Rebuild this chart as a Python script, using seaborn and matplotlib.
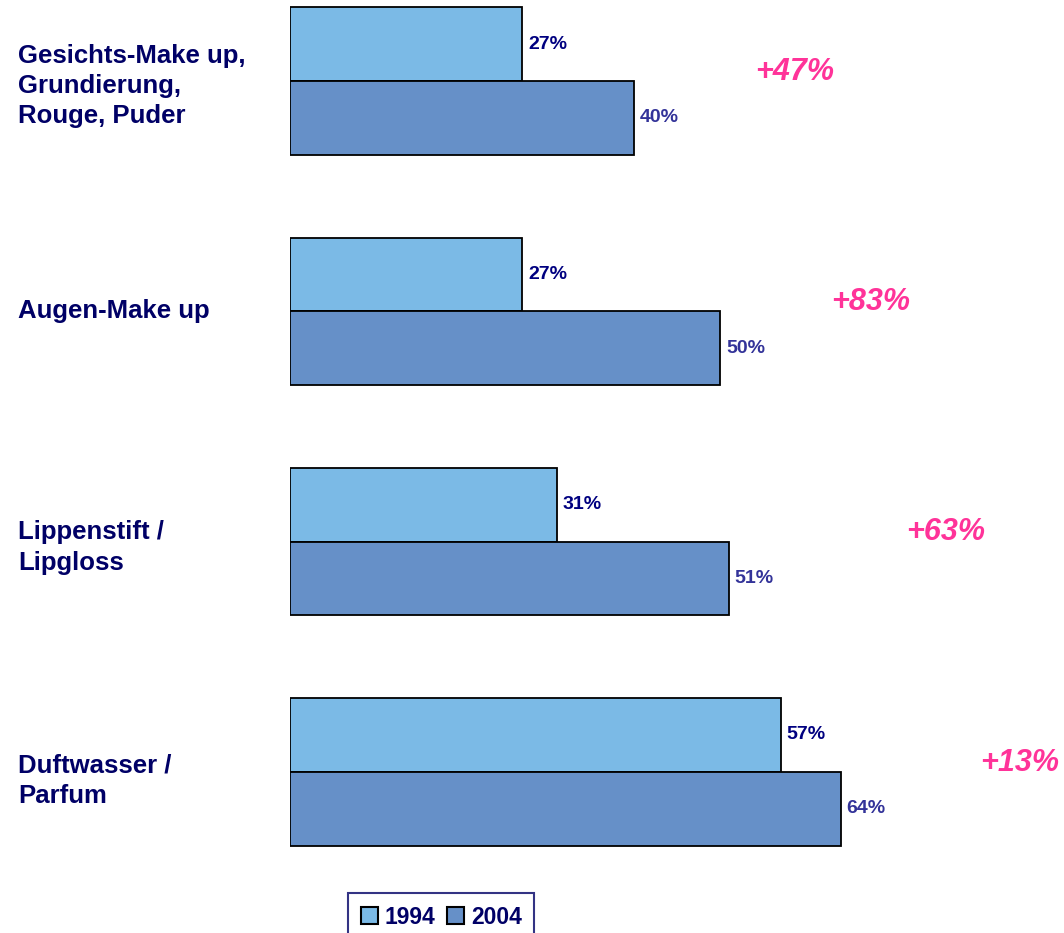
import matplotlib
matplotlib.use("Agg")
import matplotlib.pyplot as plt
import seaborn as sns
import pandas as pd
from matplotlib.patches import Patch

# Data
categories = [
    "Gesichts-Make up,\nGrundierung,\nRouge, Puder",
    "Augen-Make up",
    "Lippenstift /\nLipgloss",
    "Duftwasser /\nParfum",
]
years = ["1994", "2004"]
values_1994 = [27, 27, 31, 57]
values_2004 = [40, 50, 51, 64]
growth_labels = ["+47%", "+83%", "+63%", "+13%"]

sns.set_theme(style="white")
plt.rcParams["font.family"] = ["Liberation Sans", "DejaVu Sans"]

df = pd.DataFrame({
    "Kategorie": categories * 2,
    "Jahr": [years[0]] * 4 + [years[1]] * 4,
    "Anteil": values_1994 + values_2004,
})

bar_colors = {"1994": "#7BBAE6", "2004": "#6690C8"}
label_colors = {"1994": "#000080", "2004": "#333399"}
navy = "#000066"
pink = "#FF3399"

W, H = 1064, 933
fig = plt.figure(figsize=(W / 100, H / 100), dpi=100)
ax = fig.add_axes([290 / W, 0, 1 - 290 / W, 1])

sns.barplot(
    data=df, y="Kategorie", x="Anteil", hue="Jahr", order=categories,
    hue_order=years, palette=bar_colors, saturation=1, orient="h", width=0.64,
    edgecolor="black", linewidth=1.3, legend=False, ax=ax,
)

ax.set_xlim(0, 89.9)
ax.set_ylim(3.70, -0.352)
ax.axis("off")

# Value labels next to each bar
for container, yr in zip(ax.containers, years):
    ax.bar_label(container, labels=[f"{v:.0f}%" for v in container.datavalues],
                 padding=4, fontsize=14, fontweight="bold",
                 color=label_colors[yr])

# Category labels on the left (small downward nudge in pixels)
label_nudge = [5, 0, 6, 9]
for i, cat in enumerate(categories):
    ypix = ax.transData.transform((0, i))[1] - label_nudge[i]
    fig.text(18 / W, ypix / fig.bbox.height,
             cat, ha="left", va="center", fontsize=18.5, fontweight="bold",
             color=navy, linespacing=1.33)

# Growth annotations
growth_x = [58.6, 67.4, 76.1, 84.8]
for i, (gx, gl) in enumerate(zip(growth_x, growth_labels)):
    ax.text(gx, i - 0.04, gl, ha="center", va="center", fontsize=22,
            fontweight="bold", fontstyle="italic", color=pink)

# Legend, its lower border running off the bottom edge
handles = [Patch(facecolor=bar_colors[y], edgecolor="black", linewidth=1.5, label=y)
           for y in years]
leg = fig.legend(handles=handles, loc="upper left",
                 bbox_to_anchor=(348 / W, 1 - 893 / H), ncol=2, frameon=True,
                 fancybox=False, handlelength=0.75, handleheight=0.75,
                 handletextpad=0.3, columnspacing=0.5, borderpad=0.55,
                 borderaxespad=0.0, prop={"weight": "bold", "size": 16.5})
leg.get_frame().set_edgecolor(navy)
leg.get_frame().set_linewidth(1.5)
for t in leg.get_texts():
    t.set_color(navy)

fig.savefig("out.png", dpi=100)
